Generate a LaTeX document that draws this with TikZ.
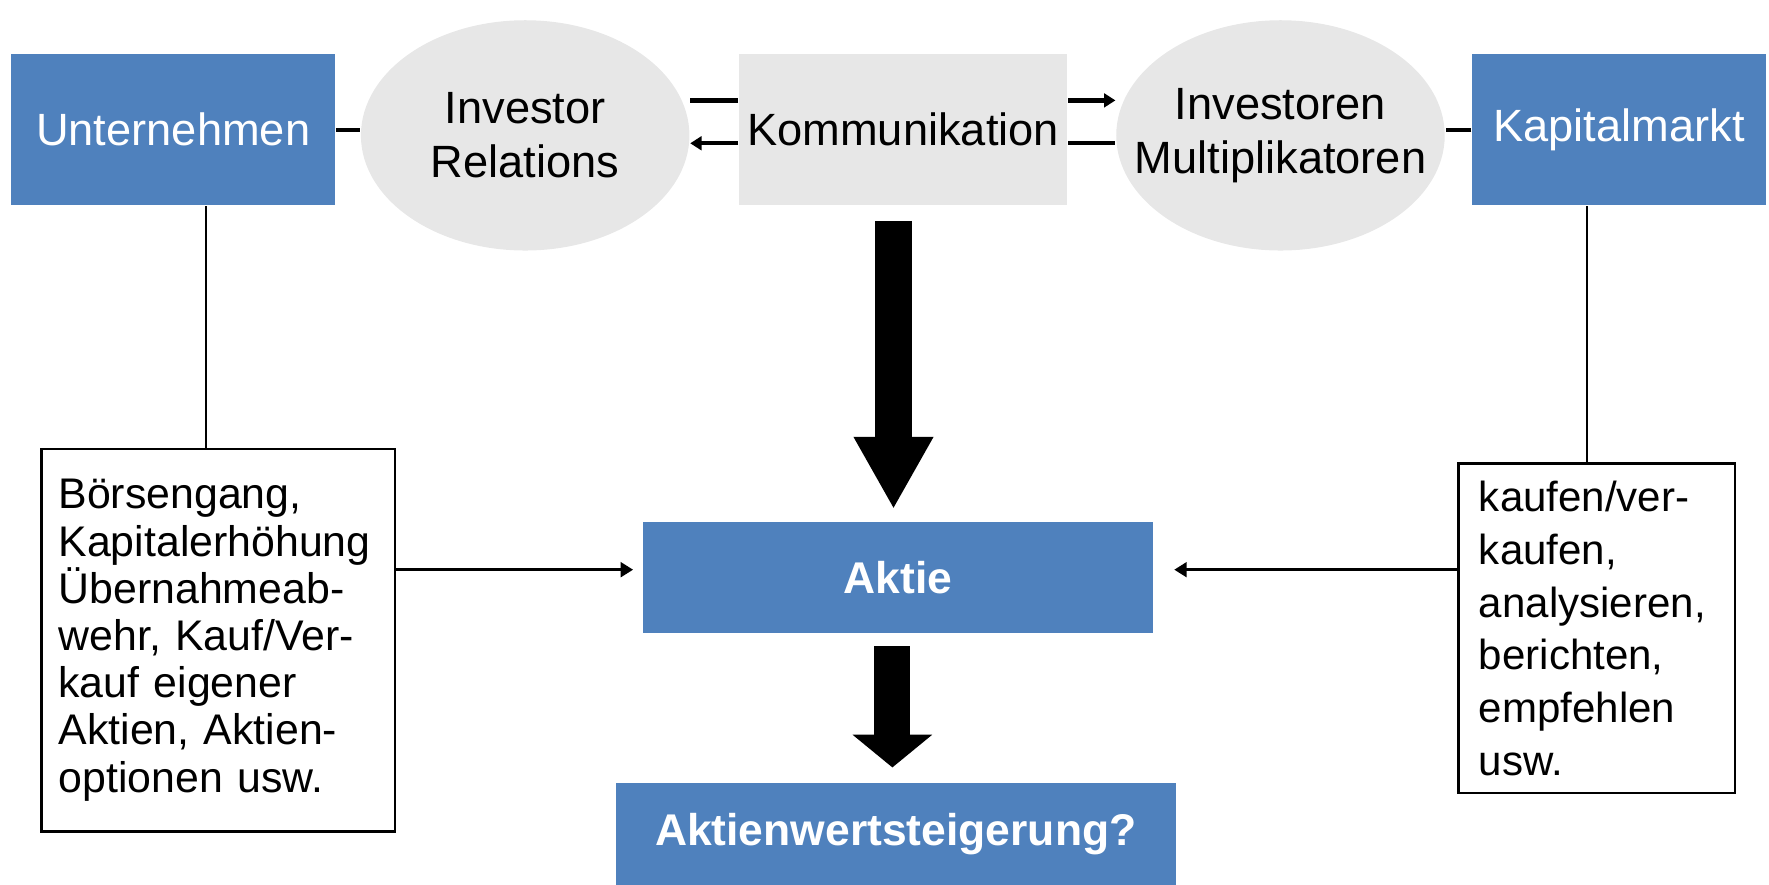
\documentclass[tikz,border=0pt]{standalone}
\usepackage{fontspec}
\setmainfont{Liberation Sans}
\usetikzlibrary{shapes.geometric,arrows.meta}
\definecolor{boxblue}{HTML}{4F81BD}
\definecolor{ovalgray}{HTML}{E7E7E7}
\begin{document}
\begin{tikzpicture}[x=0.01cm, y=0.01cm,
	bluebox/.style={fill=boxblue, text=white, inner sep=0pt, font=\fontsize{11.4}{13.7}\selectfont},
	oval/.style={ellipse, fill=ovalgray, inner ysep=0pt, inner xsep=-0.3cm, minimum width=2.91cm, minimum height=2.04cm, align=center, font=\fontsize{11.4}{13.7}\selectfont},
	notebox/.style={draw, line width=0.6pt, inner sep=0pt, align=left},
	link/.style={line width=1.1pt},
	flow/.style={line width=1.1pt, -{Triangle[length=1mm, width=1.2mm]}},
	feed/.style={line width=0.7pt, -{Triangle[length=1.1mm, width=1.3mm]}},
	thin/.style={line width=0.5pt}]
	\useasboundingbox (0, 0) rectangle (1568, 784);
	\node[bluebox, minimum width=2.87cm, minimum height=1.34cm] (unt) at (153.5, 669) {Unternehmen};
	\node[oval] (ir) at (465.5, 664) {Investor\\Relations};
	\node[fill=ovalgray, inner sep=0pt, minimum width=2.91cm, minimum height=1.34cm, font=\fontsize{11.4}{13.7}\selectfont] (kom) at (800.5, 669) {Kommunikation};
	\node[oval] (im) at (1135, 664) {Investoren\\Multiplikatoren};
	\node[bluebox, minimum width=2.6cm, minimum height=1.34cm] (kap) at (1435, 669) {Kapitalmarkt};
	\node[bluebox, minimum width=4.52cm, minimum height=0.98cm, font=\fontsize{11.2}{13}\selectfont\bfseries] (aktie) at (796, 272) {Aktie};
	\node[bluebox, minimum width=4.96cm, minimum height=0.9cm, font=\fontsize{11.2}{13}\selectfont\bfseries] (aw) at (794, 45) {Aktienwertsteigerung?};
	\node[notebox, text width=2.83cm, minimum width=3.13cm, minimum height=3.39cm, font=\fontsize{10.8}{11.9}\selectfont] (lbox) at (193.5, 216.5) {B\"orsengang,\\Kapitalerh\"ohung\\\"Ubernahmeab-\\wehr, Kauf/Ver-\\kauf eigener\\Aktien, Aktien-\\optionen usw.};
	\node[notebox, text width=2.09cm, minimum width=2.45cm, minimum height=2.92cm, font=\fontsize{10.6}{13.3}\selectfont] (rbox) at (1415.5, 227) {kaufen/ver-\\kaufen,\\analysieren,\\berichten,\\empfehlen\\usw.};
	\draw[link] (unt.east) -- (unt.east -| ir.west);
	\draw[link] (kap.west) -- (kap.west -| im.east);
	\draw[link] ([yshift=0.26cm]kom.west) -- ([yshift=0.26cm]kom.west -| ir.east);
	\draw[flow] ([yshift=-0.12cm]kom.west) -- ([yshift=-0.12cm]kom.west -| ir.east);
	\draw[flow] ([yshift=0.26cm]kom.east) -- ([yshift=0.26cm]kom.east -| im.west);
	\draw[link] ([yshift=-0.12cm]kom.east) -- ([yshift=-0.12cm]kom.east -| im.west);
	\draw[thin] ([xshift=0.295cm]unt.south) -- ([xshift=0.295cm]unt.south |- lbox.north);
	\draw[thin] ([xshift=-0.28cm]kap.south) -- ([xshift=-0.28cm]kap.south |- rbox.north);
	\draw[feed, shorten >=0.08cm] ([yshift=0.625cm]lbox.east) -- ([yshift=0.625cm]lbox.east -| aktie.west);
	\draw[feed, shorten >=0.18cm] ([yshift=0.52cm]rbox.west) -- ([yshift=0.52cm]rbox.west -| aktie.east);
	\draw[line width=0.32cm, -{Triangle[length=0.64cm, width=0.66cm]}, shorten <=0.13cm, shorten >=0.11cm]
		([xshift=-0.085cm]kom.south) -- ([xshift=-0.085cm]kom.south |- aktie.north);
	\draw[line width=0.32cm, -{Triangle[length=0.29cm, width=0.69cm]}, shorten <=0.11cm, shorten >=0.13cm]
		([xshift=-0.05cm]aktie.south) -- ([xshift=-0.05cm]aktie.south |- aw.north);
\end{tikzpicture}
\end{document}
